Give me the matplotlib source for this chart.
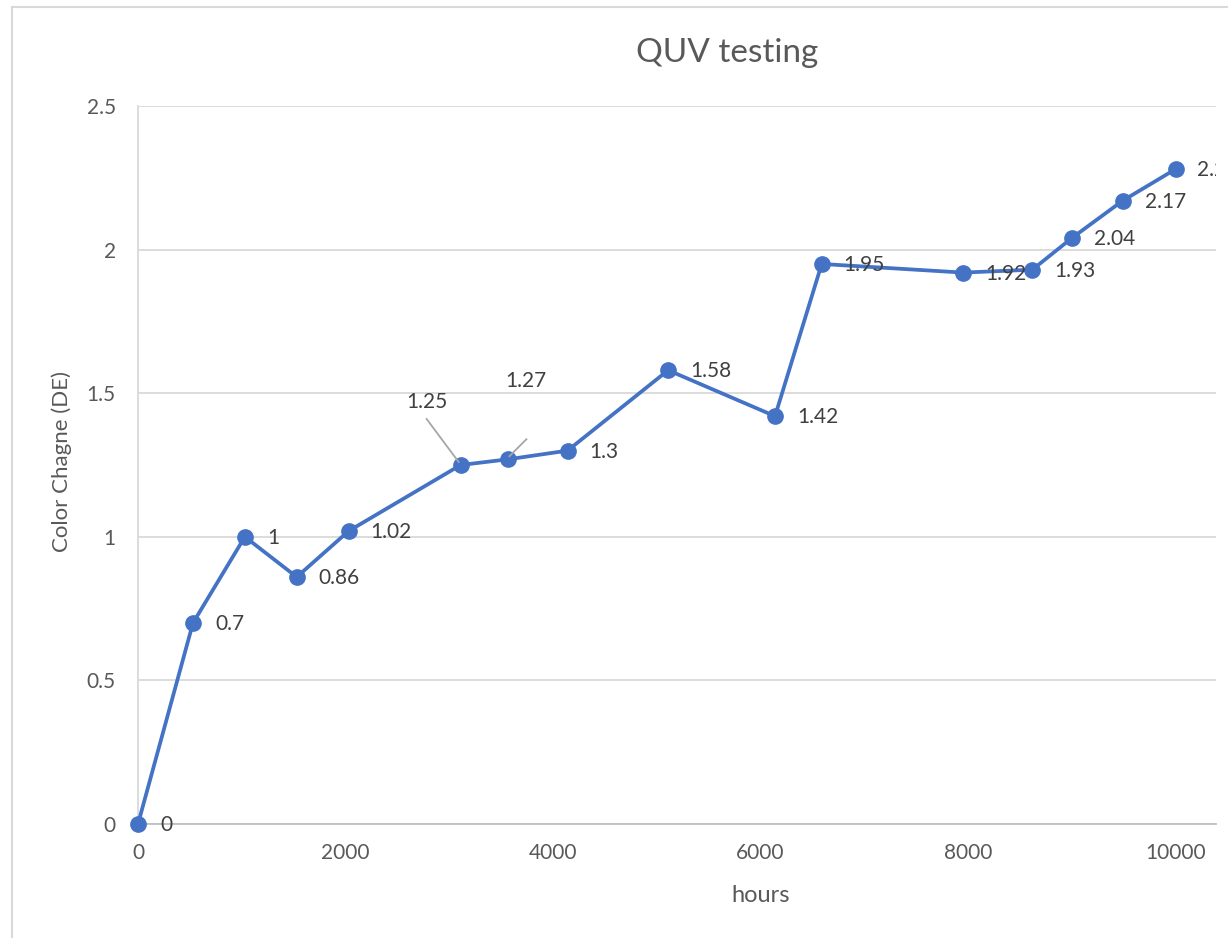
import matplotlib
matplotlib.use("Agg")
import matplotlib.pyplot as plt
from matplotlib.lines import Line2D
from matplotlib.transforms import IdentityTransform

plt.rcParams['font.family'] = ['Lato', 'DejaVu Sans']

hours = [0, 530, 1030, 1530, 2030, 3110, 3570, 4140, 5110, 6140, 6590, 7950, 8620, 9000, 9490, 10000]
color_change = [0, 0.7, 1, 0.86, 1.02, 1.25, 1.27, 1.3, 1.58, 1.42, 1.95, 1.92, 1.93, 2.04, 2.17, 2.28]
labels = ['0', '0.7', '1', '0.86', '1.02', '1.25', '1.27', '1.3', '1.58', '1.42', '1.95', '1.92', '1.93', '2.04', '2.17', '2.28']
xticks = [0, 2000, 4000, 6000, 8000, 10000]
yticks = [0, 0.5, 1, 1.5, 2, 2.5]
ytick_labels = ['0', '0.5', '1', '1.5', '2', '2.5']

W, H = 1228, 938
fig = plt.figure(figsize=(W / 100, H / 100), dpi=100)
fig.patch.set_facecolor('white')

left, right, top, bottom = 138, 1216, 106, 824
ax = fig.add_axes([left / W, 1 - bottom / H, (right - left) / W, (bottom - top) / H])

px_per_hr = 0.10375
ax.set_xlim(0, (right - left) / px_per_hr)
ax.set_ylim(0, 2.5)

grid_c = '#d9d9d9'
ax.set_yticks(yticks)
ax.set_yticklabels(ytick_labels)
ax.set_xticks(xticks)
ax.yaxis.grid(True, color=grid_c, linewidth=1.3)
ax.set_axisbelow(True)
for s in ['top', 'right']:
    ax.spines[s].set_visible(False)
ax.spines['left'].set_color(grid_c)
ax.spines['left'].set_linewidth(1.3)
ax.spines['bottom'].set_color('#bfbfbf')
ax.spines['bottom'].set_linewidth(1.3)
ax.tick_params(axis='both', length=0, labelsize=15, labelcolor='#595959')
ax.tick_params(axis='y', pad=16)
ax.tick_params(axis='x', pad=14)

blue = '#4472C4'
ax.plot(hours, color_change, color=blue, linewidth=2.7, marker='o', markersize=11,
        clip_on=False, zorder=3)

label_c = '#404040'
# label offsets in pixels for moved labels: text offset, leader start, leader end
special = {5: ((-34, 63), (-34, 46), (-2, 3)),
           6: ((18, 78), (18, 20), (1, 3))}
for i, (x, y, t) in enumerate(zip(hours, color_change, labels)):
    if i in special:
        (tx, ty), (l1x, l1y), (l2x, l2y) = special[i]
        ax.annotate(t, xy=(x, y), xytext=(tx, ty), textcoords='offset pixels',
                    ha='center', va='center', fontsize=15, color=label_c, zorder=4)
        px, py = ax.transData.transform((x, y))
        fig.add_artist(Line2D([px + l1x, px + l2x], [py + l1y, py + l2y],
                              transform=IdentityTransform(), color='#a6a6a6', lw=1.3,
                              zorder=5))
    else:
        ann = ax.annotate(t, xy=(x, y), xytext=(22, -1), textcoords='offset pixels',
                          ha='left', va='center', fontsize=15, color=label_c,
                          annotation_clip=False, zorder=4)
        if i == len(hours) - 1:
            ann.set_clip_box(ax.bbox)
            ann.set_clip_on(True)
        else:
            ann.set_clip_on(False)

# chart border (left and top visible)
fig.add_artist(Line2D([12 / W, 12 / W], [0, 1 - 7 / H], color=grid_c, lw=1.5))
fig.add_artist(Line2D([12 / W, 1], [1 - 7 / H, 1 - 7 / H], color=grid_c, lw=1.5))

fig.text(727 / W, 1 - 62 / H, 'QUV testing', ha='center', va='baseline',
         fontsize=24, color='#595959')
fig.text(761 / W, 1 - 895 / H, 'hours', ha='center', va='center',
         fontsize=17, color='#595959')
fig.text(62 / W, 1 - 462 / H, 'Color Chagne (DE)', ha='center', va='center',
         rotation=90, fontsize=16, color='#595959')

fig.savefig('out.png', dpi=100, facecolor='white')
